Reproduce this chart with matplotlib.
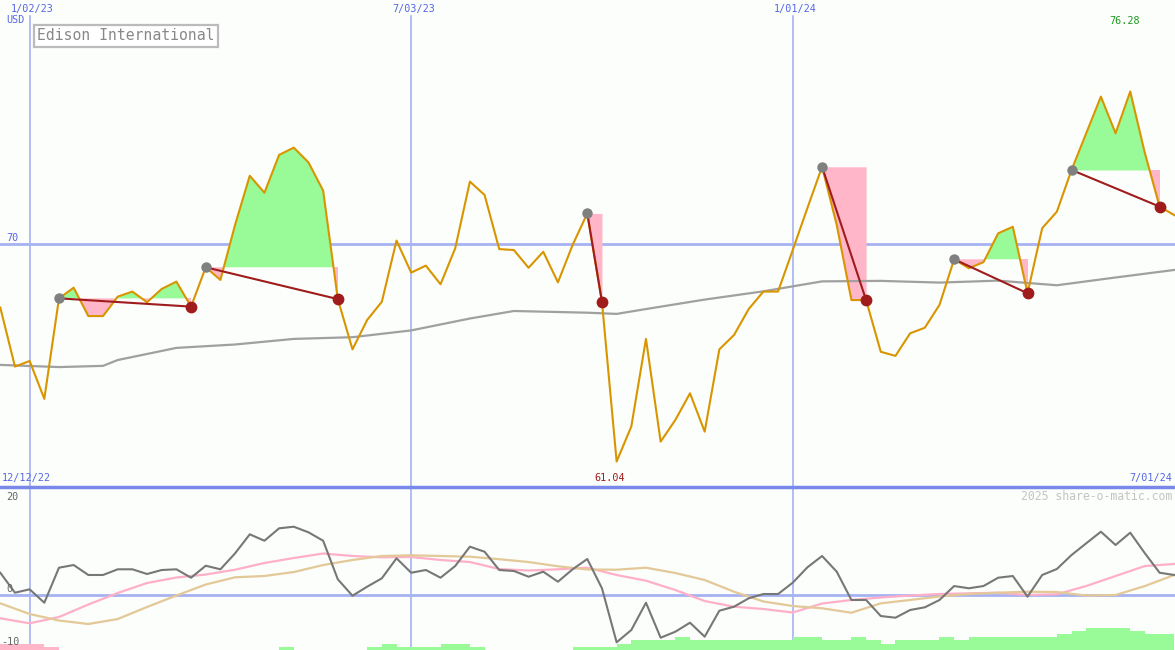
import matplotlib
matplotlib.use("Agg")
import matplotlib.pyplot as plt
from datetime import date

# weekly closes, first week = 12/19/22, last = 7/01/24
start = date(2022, 12, 19)
end = date(2024, 7, 1)
grid_dates = [date(2023, 1, 2), date(2023, 7, 3), date(2024, 1, 1)]
grid_labels = ["1/02/23", "7/03/23", "1/01/24"]

price = [67.38, 64.95, 65.18, 63.62, 67.76, 68.20, 67.03, 67.03, 67.83, 68.04,
         67.60, 68.15, 68.45, 67.42, 69.04, 68.52, 70.79, 72.81, 72.11, 73.67,
         73.97, 73.36, 72.20, 67.73, 65.66, 66.87, 67.62, 70.14, 68.82, 69.11,
         68.34, 69.82, 72.57, 72.02, 69.79, 69.75, 69.02, 69.68, 68.42, 69.96,
         71.26, 67.62, 61.04, 62.48, 66.09, 61.86, 62.75, 63.85, 62.27, 65.66,
         66.25, 67.32, 68.04, 68.04, 69.75, 71.48, 73.18, 70.78, 67.69, 67.69,
         65.56, 65.39, 66.32, 66.55, 67.49, 69.37, 69.00, 69.25, 70.44, 70.71,
         67.97, 70.65, 71.33, 73.05, 74.56, 76.07, 74.56, 76.28, 73.74, 71.54,
         71.19]

# slow moving average (gray)
ma_weeks = [0, 4, 7, 8, 12, 16, 20, 24, 28, 32, 35, 40, 42, 44, 48, 52, 56,
            60, 64, 68, 72, 76, 80]
ma_vals = [65.02, 64.93, 64.98, 65.22, 65.72, 65.86, 66.09, 66.16, 66.44, 66.93,
           67.24, 67.17, 67.12, 67.32, 67.71, 68.05, 68.46, 68.48, 68.41, 68.49,
           68.30, 68.62, 68.93]

# (start week, end week) of each signal
signals = [(4, 13), (14, 23), (40, 41), (56, 59), (65, 70), (73, 79)]

# lower panel
momentum = [4.74, 0.49, 1.21, -1.64, 5.81, 6.38, 4.26, 4.26, 5.47, 5.47,
            4.47, 5.32, 5.47, 3.68, 6.23, 5.47, 8.87, 12.91, 11.55, 14.19,
            14.53, 13.34, 11.55, 3.34, -0.15, 1.77, 3.55, 7.81, 4.74, 5.32,
            3.68, 6.17, 10.28, 9.21, 5.32, 5.11, 3.89, 4.96, 2.83, 5.47,
            7.66, 1.43, -10.06, -7.45, -1.64, -9.09, -7.81, -5.89, -8.87, -3.34,
            -2.49, -0.70, 0.21, 0.21, 2.62, 5.89, 8.30, 4.96, -1.06, -1.06,
            -4.47, -4.83, -3.19, -2.62, -1.06, 1.91, 1.43, 1.91, 3.68, 4.04,
            -0.36, 4.26, 5.53, 8.51, 11.00, 13.47, 10.64, 13.26, 8.87, 4.74,
            4.26]

slow_weeks = list(range(0, 81, 2))
pink_vals = [-4.96, -6.02, -4.68, -2.02, 0.43, 2.55, 3.72, 4.36, 5.38, 6.81,
             7.87, 8.83, 8.30, 8.02, 8.09, 7.45, 7.02, 5.53, 5.21, 5.47,
             5.81, 4.26, 3.04, 1.06, -1.28, -2.49, -2.98, -3.72, -1.81, -1.06,
             -0.53, -0.11, 0.21, 0.36, 0.49, 0.00, 0.17, 1.91, 4.04, 6.17,
             6.60]
tan_vals = [-1.77, -4.04, -5.43, -6.17, -5.11, -2.55, -0.11, 2.23, 3.77, 4.04,
            4.89, 6.38, 7.45, 8.30, 8.45, 8.30, 8.15, 7.62, 7.02, 6.11,
            5.43, 5.38, 5.81, 4.68, 3.19, 0.70, -1.38, -2.34, -2.83, -3.77,
            -1.77, -1.06, -0.32, 0.21, 0.49, 0.70, 0.64, -0.11, 0.00, 1.91,
            4.26]

# weekly bars at the bottom (negative = pink)
bar_levels = [-2, -2, -2, -1, 0, 0, 0, 0, 0, 0,
              0, 0, 0, 0, 0, 0, 0, 0, 0, 1,
              0, 0, 0, 0, 0, 1, 2, 1, 1, 1,
              2, 2, 1, 0, 0, 0, 0, 0, 0, 1,
              1, 1, 2, 3, 3, 3, 4, 3, 3, 3,
              3, 3, 3, 3, 4, 4, 3, 3, 4, 3,
              2, 3, 3, 3, 4, 3, 4, 4, 4, 4,
              4, 4, 5, 6, 7, 7, 7, 6, 5, 5]
bar_unit = 0.68

GREEN = "#98fb98"
PINK = "#ffb6c8"
GRID = "#a6b2f2"
BLUE_TXT = "#5566e6"
BG = "#fbfefb"
FONT = "DejaVu Sans Mono"

W, H = 1175, 650
fig = plt.figure(figsize=(W / 100, H / 100), dpi=100, facecolor=BG)

split = 487  # pixel row of panel separator
ax = fig.add_axes([0, 1 - split / H, 1, split / H])
ax2 = fig.add_axes([0, 0, 1, 1 - split / H])

nweeks = (end - start).days / 7
weeks = list(range(len(price)))
grid_x = [(d - start).days / 7 for d in grid_dates]

for a in (ax, ax2):
    a.set_facecolor(BG)
    a.set_xlim(-0.02, nweeks + 0.05)
    a.set_xticks([])
    a.set_yticks([])
    for s in a.spines.values():
        s.set_visible(False)

# ---- upper panel ----
ax.set_ylim(59.99, 80.05)
ax.axhline(70, color=GRID, lw=2, zorder=0)
for gx in grid_x:
    ax.axvline(gx, ymin=0, ymax=(split - 16) / split, color=GRID, lw=1.2, zorder=0)

for s, e in signals:
    xs = weeks[s:e + 1]
    ps = price[s:e + 1]
    lvl = price[s]
    ax.fill_between(xs, lvl, ps, where=[p >= lvl for p in ps], interpolate=True,
                    color=GREEN, lw=0, zorder=1)
    ax.fill_between(xs, lvl, ps, where=[p <= lvl for p in ps], interpolate=True,
                    color=PINK, lw=0, zorder=1)

ax.plot(ma_weeks, ma_vals, color="#a0a0a0", lw=1.6, zorder=2)
ax.plot(weeks, price, color="#d99500", lw=1.5, zorder=3)

for s, e in signals:
    ax.plot([s, e], [price[s], price[e]], color="#a01c1c", lw=1.5, zorder=4)
    ax.plot(s, price[s], "o", color="#808080", ms=7.5, mec="none", zorder=5)
    ax.plot(e, price[e], "o", color="#a01c1c", ms=8.5, mec="none", zorder=5)

# ---- lower panel ----
ybot, ytop = -11.70, 22.98
ax2.set_ylim(ybot, ytop)
ax2.axhline(0, color=GRID, lw=2, zorder=0)
ax2.axhline(ytop, color="#7a88ea", lw=2.5, zorder=6, clip_on=False)
for gx in grid_x:
    ax2.axvline(gx, color=GRID, lw=1.2, zorder=0)

for i, lv in enumerate(bar_levels):
    if lv == 0:
        continue
    ax2.bar(i + 0.5, abs(lv) * bar_unit, width=1.0, bottom=ybot,
            color=GREEN if lv > 0 else PINK, lw=0, zorder=1)

ax2.plot(slow_weeks, pink_vals, color="#ffb0c8", lw=1.6, zorder=2)
ax2.plot(slow_weeks, tan_vals, color="#e3c898", lw=1.6, zorder=2)
ax2.plot(weeks, momentum, color="#777777", lw=1.5, zorder=3)


# ---- texts (pixel positions) ----
def px_text(x, y, s, **kw):
    kw.setdefault("family", FONT)
    fig.text(x / W, 1 - y / H, s, **kw)


for gx, lab in zip(grid_x, grid_labels):
    px = gx / (nweeks + 0.07) * W + 3
    px_text(px, 9, lab, ha="center", va="center", fontsize=7.3, color=BLUE_TXT)

px_text(6, 20, "USD", ha="left", va="center", fontsize=7.3, color=BLUE_TXT)
px_text(6, 238, "70", ha="left", va="center", fontsize=7.3, color=BLUE_TXT)
px_text(2, 478, "12/12/22", ha="left", va="center", fontsize=7.3, color=BLUE_TXT)
px_text(1172, 478, "7/01/24", ha="right", va="center", fontsize=7.3, color=BLUE_TXT)
px_text(610, 478, f"{min(price):.2f}", ha="center", va="center", fontsize=7.3,
        color="#a01c1c")
px_text(1125, 21, f"{max(price):.2f}", ha="center", va="center", fontsize=7.3,
        color="#1f991f")
px_text(37, 36, "Edison International", ha="left", va="center", fontsize=10.6,
        color="#888888",
        bbox=dict(boxstyle="square,pad=0.22", fc="white", ec="#bbbbbb", lw=1.6))
px_text(1172, 496, "2025 share-o-matic.com", ha="right", va="center",
        fontsize=8.3, color="#c4c4c4")
px_text(6, 497, "20", ha="left", va="center", fontsize=7.3, color="#666666")
px_text(6, 589, "0", ha="left", va="center", fontsize=7.3, color="#666666")
px_text(1, 642, "-10", ha="left", va="center", fontsize=7.3, color="#666666")

fig.savefig("out.png", dpi=100, facecolor=BG)
